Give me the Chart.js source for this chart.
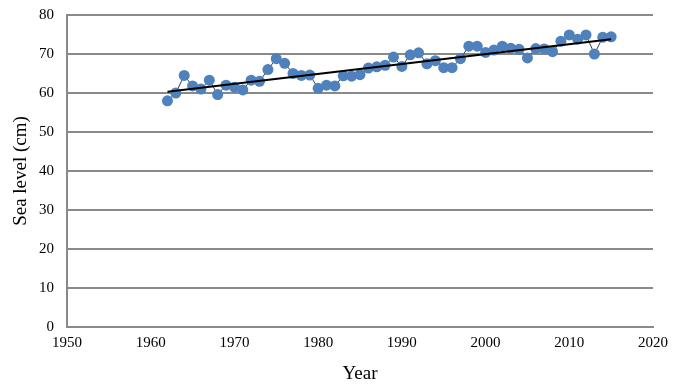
<!DOCTYPE html>
<html>
<head>
<meta charset="utf-8">
<script src="https://cdn.jsdelivr.net/npm/chart.js@4"></script>
<style>
  html, body { margin: 0; padding: 0; background: #fff; }
  #wrap { width: 679px; height: 390px; }
</style>
</head>
<body>
<div id="wrap"><canvas id="seaChart" width="679" height="390"></canvas></div>
<script>
const years = [1962, 1963, 1964, 1965, 1966, 1967, 1968, 1969, 1970, 1971,
  1972, 1973, 1974, 1975, 1976, 1977, 1978, 1979, 1980, 1981,
  1982, 1983, 1984, 1985, 1986, 1987, 1988, 1989, 1990, 1991,
  1992, 1993, 1994, 1995, 1996, 1997, 1998, 1999, 2000, 2001,
  2002, 2003, 2004, 2005, 2006, 2007, 2008, 2009, 2010, 2011,
  2012, 2013, 2014, 2015];
const seaLevel = [58.0, 60.0, 64.5, 61.8, 61.0, 63.3, 59.6, 62.0, 61.5, 60.8,
  63.3, 63.0, 66.0, 68.8, 67.6, 65.0, 64.5, 64.6, 61.2, 62.0,
  61.8, 64.4, 64.3, 64.7, 66.4, 66.7, 67.1, 69.2, 66.8, 69.8,
  70.3, 67.5, 68.3, 66.5, 66.5, 68.8, 72.0, 72.0, 70.4, 71.0,
  72.0, 71.5, 71.2, 69.0, 71.4, 71.3, 70.6, 73.3, 74.9, 73.8,
  74.9, 70.0, 74.3, 74.4];
const trendYears = [1962, 2015];
const trendValues = [60.3, 73.8];

const points = years.map((y, i) => ({ x: y, y: seaLevel[i] }));
const trend = trendYears.map((y, i) => ({ x: y, y: trendValues[i] }));

const serif = "'Liberation Serif', 'Times New Roman', serif";

new Chart(document.getElementById("seaChart"), {
  type: 'scatter',
  data: {
    datasets: [
      {
        label: 'Trend',
        data: trend,
        showLine: true,
        borderColor: '#000000',
        borderWidth: 2,
        pointRadius: 0,
        order: 0
      },
      {
        label: 'Sea level',
        data: points,
        showLine: true,
        borderColor: '#3a3a3a',
        borderWidth: 1,
        pointRadius: 5.5,
        pointBackgroundColor: '#4F81BD',
        pointBorderColor: '#4F81BD',
        pointBorderWidth: 0,
        order: 1
      }
    ]
  },
  options: {
    responsive: false,
    animation: false,
    layout: { autoPadding: false, padding: { top: 15, right: 26, left: 0, bottom: 0 } },
    plugins: {
      legend: { display: false },
      tooltip: { enabled: false }
    },
    scales: {
      x: {
        type: 'linear',
        min: 1950,
        max: 2020,
        ticks: {
          stepSize: 10,
          color: '#000',
          font: { family: serif, size: 15 },
          padding: 7,
          maxRotation: 0,
          callback: (v) => String(v)
        },
        grid: { display: false, drawTicks: false },
        border: { display: true, color: '#898989', width: 2 },
        title: {
          display: true,
          text: 'Year',
          color: '#000',
          font: { family: serif, size: 19 },
          padding: { top: 0, bottom: 5 }
        },
        afterFit: (scale) => { scale.height = 63; }
      },
      y: {
        min: 0,
        max: 80,
        ticks: {
          stepSize: 10,
          color: '#000',
          font: { family: serif, size: 15 },
          padding: 13
        },
        grid: { color: '#898989', lineWidth: 2, drawTicks: false },
        border: { display: true, color: '#898989', width: 2 },
        title: {
          display: true,
          text: 'Sea level (cm)',
          color: '#000',
          font: { family: serif, size: 19 },
          padding: { top: 10, bottom: 0 }
        },
        afterFit: (scale) => {
          scale.width = 67;
          scale.paddingTop = 0;
          scale.paddingBottom = 0;
        }
      }
    }
  }
});
</script>
</body>
</html>
